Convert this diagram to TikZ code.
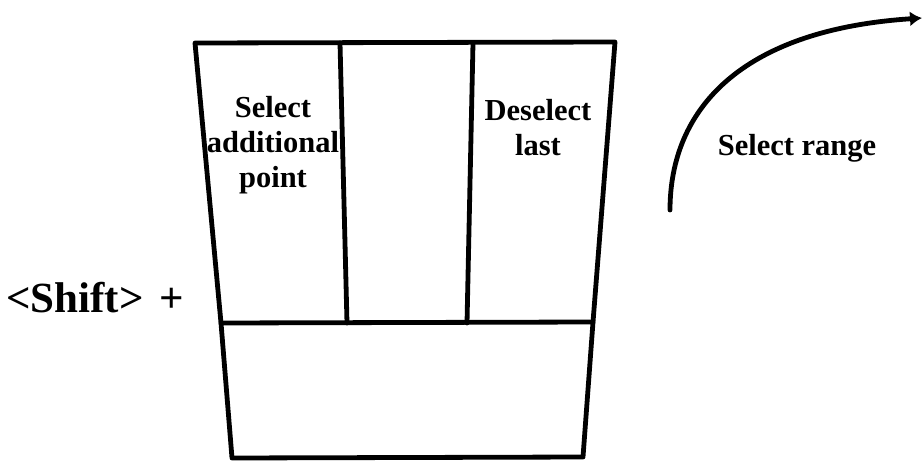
\documentclass[tikz,border=0pt]{standalone}
\usepackage{fontspec}
\setmainfont{Liberation Serif}
\usetikzlibrary{arrows.meta}
\begin{document}
\begin{tikzpicture}[x=1pt,y=-1pt,
  edge/.style={line width=4.8pt,line join=round,line cap=round},
  lbl/.style={font=\fontsize{30.5}{35}\selectfont\bfseries,align=center,inner sep=0pt,anchor=base},
  big/.style={font=\fontsize{43}{46}\selectfont\bfseries,inner sep=0pt,anchor=base west}]
\useasboundingbox (0,0) rectangle (923,463);
% corners
\coordinate (TL) at (195,43);
\coordinate (TR) at (615,42);
\coordinate (ML) at (221,323);
\coordinate (MR) at (593,322);
\coordinate (BL) at (232,458);
\coordinate (BR) at (583,457);
\coordinate (A1) at (340,43);
\coordinate (A2) at (347,323);
\coordinate (B1) at (473,43);
\coordinate (B2) at (467,323);
\draw[edge] (TL) -- (TR) -- (MR) -- (BR) -- (BL) -- (ML) -- cycle;
\draw[edge] (ML) -- (MR);
\draw[edge] (A1) -- (A2);
\draw[edge] (B1) -- (B2);
% texts
\node[lbl] (sel) at (273,187) {Select\\additional\\point};
\node[lbl] (desel) at (538,155) {Deselect\\last};
\node[lbl] (range) at (797,155) {Select range};
\node[big] (shift) at (6,312) {<Shift>\hspace{16pt}+};
% arrow
\coordinate (s) at (670,210);
\coordinate (e) at (922,18);
\draw[line width=4.8pt,line cap=round,-{Latex[length=12pt,width=15pt]}] (s) .. controls (670,110) and (740,30) .. (e);
\end{tikzpicture}
\end{document}
